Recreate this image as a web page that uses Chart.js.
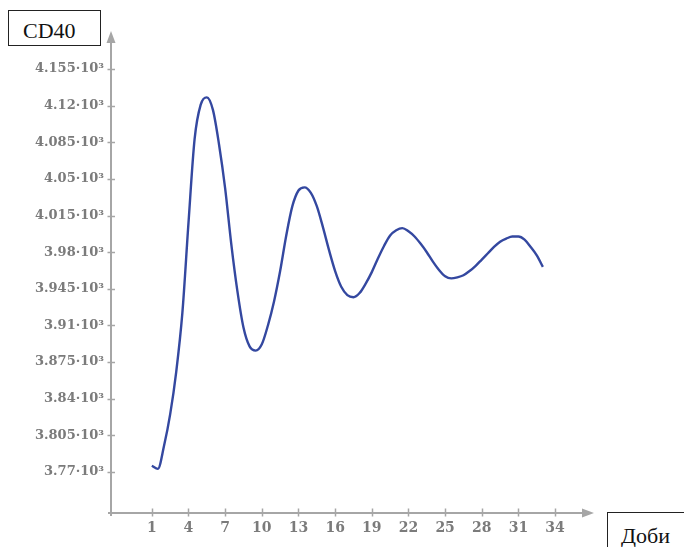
<!DOCTYPE html>
<html lang="uk">
<head>
    <meta charset="UTF-8">
    <title>CD40</title>
    <script src="https://cdn.jsdelivr.net/npm/chart.js"></script>
    <style>
        html, body {
            margin: 0;
            padding: 0;
            background: #fff;
            overflow: hidden;
        }
        .wrap {
            position: relative;
            width: 684px;
            height: 547px;
        }
        canvas {
            position: absolute;
            left: 0;
            top: 0;
        }
        .box {
            position: absolute;
            border: 1px solid #222;
            box-sizing: border-box;
            font-family: "Liberation Serif", serif;
            font-size: 22px;
            color: #111;
            background: #fff;
        }
        #yName {
            left: 8px;
            top: 10px;
            width: 93px;
            height: 36px;
            padding-left: 14px;
            line-height: 39px;
        }
        #xName {
            left: 607px;
            top: 512px;
            width: 100px;
            height: 60px;
            padding-left: 13px;
            line-height: 45px;
        }
    </style>
</head>
<body>
<div class="wrap">
    <canvas id="chart" width="684" height="547"></canvas>
    <div class="box" id="yName">CD40</div>
    <div class="box" id="xName">Доби</div>
</div>

<script>
    // days and CD40 values
    const days = [1, 1.5, 2, 2.5, 3, 3.5, 4, 4.5, 5, 5.5, 6, 6.5, 7, 7.5, 8, 8.5, 9, 9.5, 10, 10.5,
        11, 11.5, 12, 12.5, 13, 13.5, 14, 14.5, 15, 15.5, 16, 16.5, 17, 17.5, 18, 18.5, 19, 19.5, 20, 20.5,
        21, 21.5, 22, 22.5, 23, 23.5, 24, 24.5, 25, 25.5, 26, 26.5, 27, 27.5, 28, 28.5, 29, 29.5, 30, 30.5,
        31, 31.5, 32, 32.5, 33];
    const cd40 = [3776, 3773, 3795, 3825, 3866, 3922, 4008, 4088, 4121, 4128, 4116, 4083, 4041, 3988, 3943, 3908, 3890, 3886, 3892, 3910,
        3933, 3962, 3996, 4024, 4039, 4042, 4037, 4024, 4004, 3982, 3962, 3947, 3939, 3937, 3941, 3950, 3961, 3974, 3986, 3996,
        4001, 4003, 4000, 3995, 3988, 3980, 3971, 3963, 3957, 3955, 3956, 3958, 3962, 3967, 3973, 3979, 3985, 3990, 3993, 3995,
        3995, 3992, 3985, 3977, 3966];

    const xTicks = [1, 4, 7, 10, 13, 16, 19, 22, 25, 28, 31, 34];
    const yTicks = [3770, 3805, 3840, 3875, 3910, 3945, 3980, 4015, 4050, 4085, 4120, 4155];

    const axisGray = '#a6a6a6';
    const labelGray = '#7b7b7b';

    function yLabel(v) {
        return String(v / 1000) + '·10³';
    }

    // axes drawn as crossing lines with arrow heads
    const arrowAxes = {
        id: 'arrowAxes',
        beforeDatasetsDraw(chart) {
            const ctx = chart.ctx;
            const xs = chart.scales.x;
            const ys = chart.scales.y;
            const a = chart.chartArea;
            const x0 = a.left, y0 = a.bottom;
            ctx.save();
            ctx.strokeStyle = axisGray;
            ctx.fillStyle = axisGray;
            ctx.lineWidth = 2;
            ctx.beginPath();
            ctx.moveTo(x0, y0 + 3);
            ctx.lineTo(x0, a.top + 8);
            ctx.moveTo(x0 - 3, y0);
            ctx.lineTo(a.right - 8, y0);
            ctx.stroke();

            ctx.lineWidth = 1.5;
            ctx.beginPath();
            yTicks.forEach(v => {
                const py = Math.round(ys.getPixelForValue(v)) + 0.5;
                ctx.moveTo(x0 - 3.5, py);
                ctx.lineTo(x0 + 4, py);
            });
            xTicks.forEach(v => {
                const px = Math.round(xs.getPixelForValue(v)) + 0.5;
                ctx.moveTo(px, y0 - 4.5);
                ctx.lineTo(px, y0 + 3.5);
            });
            ctx.stroke();

            ctx.beginPath();
            ctx.moveTo(x0, a.top - 2);
            ctx.lineTo(x0 - 4.5, a.top + 10);
            ctx.lineTo(x0 + 4.5, a.top + 10);
            ctx.closePath();
            ctx.fill();
            ctx.beginPath();
            ctx.moveTo(a.right + 1, y0);
            ctx.lineTo(a.right - 11, y0 - 4.5);
            ctx.lineTo(a.right - 11, y0 + 4.5);
            ctx.closePath();
            ctx.fill();
            ctx.restore();
        }
    };

    const tickFont = { family: '"DejaVu Serif", serif', size: 13, weight: 'bold' };

    new Chart(document.getElementById('chart'), {
        type: 'line',
        data: {
            datasets: [{
                data: days.map((d, i) => ({ x: d, y: cd40[i] })),
                borderColor: '#3448a0',
                borderWidth: 2.4,
                pointRadius: 0,
                cubicInterpolationMode: 'monotone',
                fill: false
            }]
        },
        options: {
            responsive: false,
            animation: false,
            events: [],
            layout: { padding: { left: 0, top: 33, right: 91, bottom: 0 } },
            plugins: { legend: { display: false }, tooltip: { enabled: false } },
            scales: {
                x: {
                    type: 'linear',
                    min: -2.34,
                    max: 37.1,
                    grid: { display: false, drawTicks: false },
                    border: { display: false },
                    afterBuildTicks: s => { s.ticks = xTicks.map(v => ({ value: v })); },
                    afterFit: s => { s.height = 34; },
                    ticks: {
                        padding: 7,
                        color: labelGray,
                        font: { family: '"DejaVu Serif", serif', size: 14, weight: 'bold' },
                        maxRotation: 0,
                        autoSkip: false
                    }
                },
                y: {
                    type: 'linear',
                    min: 3730.8,
                    max: 4189.5,
                    grid: { display: false, drawTicks: false },
                    border: { display: false },
                    afterBuildTicks: s => { s.ticks = yTicks.map(v => ({ value: v })); },
                    afterFit: s => { s.width = 111; },
                    ticks: {
                        padding: 7,
                        color: labelGray,
                        font: tickFont,
                        autoSkip: false,
                        callback: v => yLabel(v)
                    }
                }
            }
        },
        plugins: [arrowAxes]
    });
</script>
</body>
</html>
